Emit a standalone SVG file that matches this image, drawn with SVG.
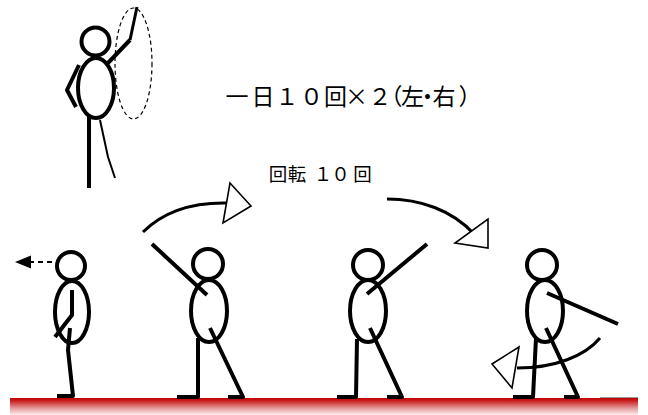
<svg xmlns="http://www.w3.org/2000/svg" width="648" height="415" viewBox="0 0 648 415">
  <style>
    .fig { fill: none; stroke: #000; stroke-width: 4; stroke-linecap: butt; stroke-linejoin: round; }
    .fig circle, .fig ellipse { fill: #fff; }
    .thin { stroke-width: 2; }
    .arc { fill: none; stroke: #000; stroke-width: 3; }
    .head { fill: #fff; stroke: #000; stroke-width: 1.6; stroke-linejoin: miter; }
    .label { font-family: "Noto Sans CJK JP", "Noto Sans", sans-serif; fill: #000; text-anchor: middle; }
  </style>
  <defs>
    <linearGradient id="floorFill" x1="0" y1="0" x2="0" y2="1">
      <stop offset="0" stop-color="#c00000"/>
      <stop offset="0.15" stop-color="#c81c1c"/>
      <stop offset="0.6" stop-color="#e59a9a"/>
      <stop offset="1" stop-color="#fdf0f0"/>
    </linearGradient>
  </defs>

  <!-- floor -->
  <g id="floor">
    <rect x="10" y="398" width="628" height="17" fill="url(#floorFill)"/>
    <line x1="600" y1="397.5" x2="638" y2="397.5" stroke="#999" stroke-width="1"/>
  </g>

  <!-- standing figure with raised arm (top left) -->
  <g id="figure-top" class="fig">
    <polyline points="79,65 67,90 76,107"/>
    <line x1="89" y1="116" x2="89" y2="188"/>
    <polyline class="thin" points="100,120 108,157 115,178"/>
    <polyline points="107,64 130,40" />
    <polyline points="130,40 137,7" stroke-width="3"/>
    <ellipse cx="96" cy="88" rx="18" ry="30"/>
    <circle cx="95.5" cy="41.5" r="14"/>
  </g>

  <!-- figure looking left -->
  <g id="figure-1" class="fig">
    <ellipse cx="72" cy="312" rx="17" ry="31"/>
    <circle cx="71" cy="266" r="14"/>
    <polyline points="72,290 72,315 55,337"/>
    <polyline points="70,328 68,350 73,396 57,396"/>
  </g>

  <!-- figure with arm up-left -->
  <g id="figure-2" class="fig">
    <ellipse cx="209" cy="311" rx="18" ry="31"/>
    <circle cx="208" cy="264" r="15"/>
    <line x1="152" y1="244" x2="207" y2="295"/>
    <polyline points="198,338 198,397 177,397"/>
    <polyline points="210,328 243,397 228,397"/>
  </g>

  <!-- figure with arm up-right -->
  <g id="figure-3" class="fig">
    <ellipse cx="368" cy="311" rx="18" ry="31"/>
    <circle cx="368" cy="265" r="15"/>
    <line x1="367" y1="294" x2="427" y2="244"/>
    <polyline points="357,339 356,397 337,397"/>
    <polyline points="370,328 402,397 387,397"/>
  </g>

  <!-- figure with arm down-right -->
  <g id="figure-4" class="fig">
    <ellipse cx="545" cy="311" rx="18" ry="31"/>
    <circle cx="542" cy="265" r="15"/>
    <line x1="547" y1="293" x2="618" y2="324"/>
    <polyline points="536,338 533,397 513,397"/>
    <polyline points="546,328 578,397 564,397"/>
  </g>

  <!-- motion paths and arrows -->
  <g id="connectors">
    <ellipse cx="133.5" cy="63.5" rx="18.5" ry="55.5" fill="none" stroke="#000" stroke-width="1.2" stroke-dasharray="4 3"/>
    <line x1="52" y1="262" x2="30" y2="262" stroke="#000" stroke-width="2" stroke-dasharray="5 4"/>
    <polygon points="15,262 31,255.5 31,268.5" fill="#000"/>

    <path class="arc" d="M143,232 C165,210 195,202 229,203"/>
    <polygon class="head" points="230,183 251,206 223,223"/>

    <path class="arc" d="M387,199 C420,199 452,210 474,234"/>
    <polygon class="head" points="488,219 488,248 455,243"/>

    <path class="arc" d="M600,338 C585,356 555,368 517,368"/>
    <polygon class="head" points="519,347 492,364 512,388"/>
  </g>

  <!-- captions -->
  <g id="captions">
    <text class="label" font-size="23" y="105" x="237 263 287 311.5 335.5 356.5 380 391 412.5 427.5 444 470">一日１０回×２（左・右）</text>
    <text class="label" font-size="18.5" y="180.5" x="278 297 323 340.5 362.5">回転１０回</text>
  </g>
</svg>
